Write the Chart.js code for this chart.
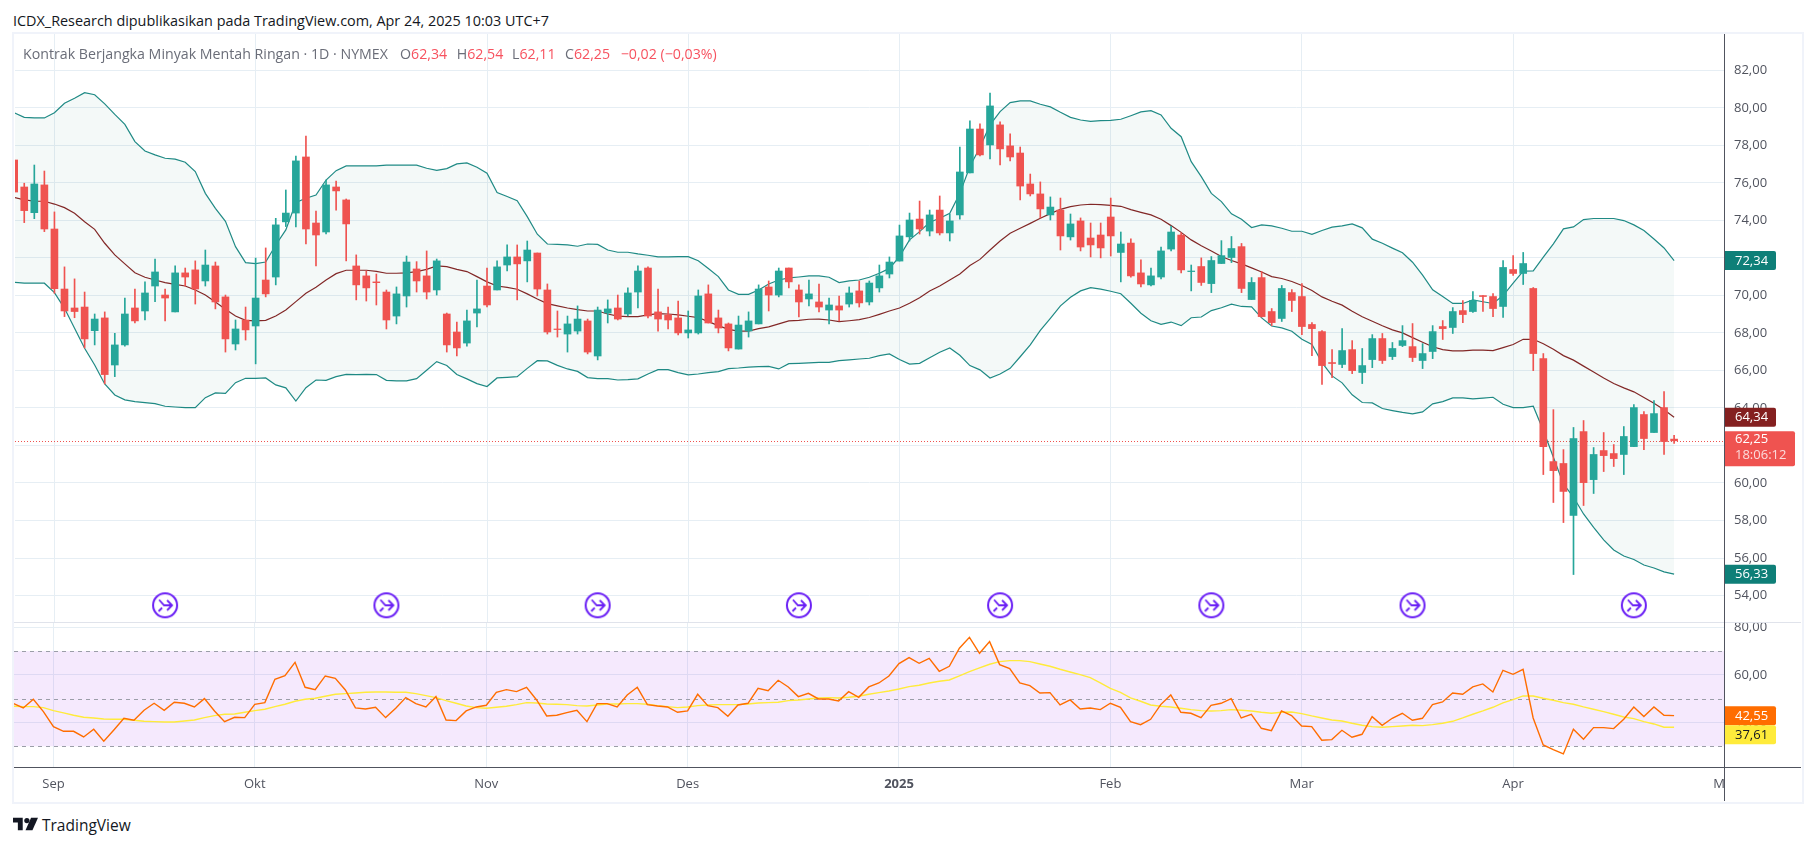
<!DOCTYPE html>
<html>
<head>
<meta charset="utf-8">
<title>Kontrak Berjangka Minyak Mentah Ringan</title>
<script src="https://cdn.jsdelivr.net/npm/chart.js@4/dist/chart.umd.min.js"></script>
<style>
  html, body { margin: 0; padding: 0; background: #fff; width: 1814px; height: 846px; overflow: hidden; }
  body { font-family: "Open Sans", sans-serif; position: relative; }
  canvas { position: absolute; left: 0; }
  #hargaChart { top: 0; }
  #rsiChart { top: 622px; }
  .teks { position: absolute; white-space: nowrap; }
  #judul { left: 13px; top: 11px; font-size: 14.4px; color: #131722; }
  #legenda { left: 0; top: 44px; font-size: 14.2px; color: #6a6d78; }
  #legenda span { position: absolute; top: 0; }
  #legenda b { font-weight: normal; color: #f7525f; }
  .garis { position: absolute; }
  #logo { position: absolute; left: 13px; top: 817px; }
  #namaLogo { left: 42px; top: 814px; font-size: 15.5px; color: #131722; }
</style>
</head>
<body>
<div class="teks" id="judul">ICDX_Research dipublikasikan pada TradingView.com, Apr 24, 2025 10:03 UTC+7</div>
<canvas id="hargaChart"></canvas>
<canvas id="rsiChart"></canvas>
<div class="teks" id="legenda">
  <span style="left:23px">Kontrak Berjangka Minyak Mentah Ringan · 1D · NYMEX</span>
  <span style="left:400px">O<b>62,34</b></span>
  <span style="left:456.7px">H<b>62,54</b></span>
  <span style="left:512px">L<b>62,11</b></span>
  <span style="left:565px">C<b>62,25</b></span>
  <span style="left:620.7px"><b>−0,02 (−0,03%)</b></span>
</div>

<!-- frame and axis lines -->
<div class="garis" style="left:12px;top:32px;width:1788px;height:768px;border:2px solid #f0f3fa"></div>
<div class="garis" style="left:14px;top:622px;width:1787px;height:1px;background:#e0e3eb"></div>
<div class="garis" style="left:14px;top:767px;width:1787px;height:1px;background:#50535e"></div>
<div class="garis" style="left:1724px;top:34px;width:1px;height:767px;background:#50535e"></div>

<svg id="logo" width="25" height="14" viewBox="0 0 36 18">
  <path fill="#131722" d="M0 0h14v18H7V7H0z"/>
  <circle fill="#131722" cx="20" cy="4" r="3.8"/>
  <path fill="#131722" d="M26 0h10l-8 18H18z"/>
</svg>
<div class="teks" id="namaLogo">TradingView</div>

<script>
// candles, index 0 is the half hidden one at the left edge
const openData = [77.22,75.78,74.41,75.89,73.54,70.34,69.33,69.38,68.12,68.80,66.29,67.36,69.33,69.17,70.50,70.02,69.12,71.20,71.36,70.77,71.57,69.92,67.41,68.69,68.37,70.82,70.98,73.92,74.39,77.38,73.86,73.38,75.78,75.09,71.57,71.04,70.72,70.18,68.90,69.97,71.41,71.04,70.29,69.01,68.05,67.46,69.06,70.50,70.29,71.62,72.05,71.84,72.26,70.29,68.21,67.94,68.10,68.64,66.77,69.06,69.33,69.01,70.18,71.46,69.12,68.96,68.80,68.00,68.00,70.08,68.80,68.48,67.14,68.10,68.48,70.45,70.02,71.46,70.29,69.81,69.65,69.22,69.44,69.54,70.24,69.65,70.40,71.14,71.83,73.12,74.07,73.43,74.55,73.33,74.29,76.53,78.87,78.02,79.09,77.97,77.59,75.94,75.41,74.29,74.55,73.12,73.97,73.06,73.22,74.18,72.29,72.79,71.20,70.56,70.98,72.47,73.22,71.27,71.54,70.63,71.70,72.02,72.60,69.78,70.95,69.14,68.77,70.15,69.94,68.45,68.07,66.42,66.32,67.11,65.89,66.58,67.70,66.74,67.33,67.27,66.53,67.01,68.34,68.29,69.19,69.14,69.99,69.94,69.41,71.38,71.17,70.37,66.63,61.14,61.04,58.27,62.74,60.18,61.73,61.57,61.52,61.94,63.65,62.69,64.02,62.34];
const highData = [77.25,75.98,76.95,76.63,74.45,71.52,70.88,70.18,69.01,69.12,67.98,69.86,70.34,70.72,71.94,70.34,71.57,71.46,71.84,72.42,71.78,70.02,68.69,69.38,71.99,72.53,74.11,75.62,77.43,78.50,74.50,76.15,76.10,75.14,72.16,71.30,71.14,70.29,70.45,72.10,71.80,72.37,71.94,69.06,68.58,69.22,70.82,71.46,71.84,72.69,72.69,72.90,72.26,70.61,69.17,68.90,69.44,68.74,69.38,69.76,70.02,70.40,71.57,71.52,70.34,69.38,69.70,69.17,70.29,70.56,69.22,68.53,68.90,69.12,70.56,70.77,71.46,71.46,70.56,70.82,70.61,69.86,69.97,70.45,70.77,70.77,71.62,72.05,73.75,74.39,75.03,74.55,75.30,74.34,77.91,79.30,79.14,80.79,79.25,78.61,77.91,76.47,76.05,75.25,75.19,74.34,74.13,73.86,73.86,75.19,73.38,73.01,71.89,71.46,72.58,73.70,73.33,71.62,72.00,72.07,72.92,73.14,72.77,70.95,71.27,69.30,70.53,70.31,70.63,68.55,68.13,67.11,68.23,67.59,67.17,67.91,67.97,67.49,68.39,68.50,67.43,68.39,68.66,69.35,69.73,70.21,69.99,70.10,71.86,72.12,72.29,70.42,66.90,63.91,61.78,62.96,63.33,61.89,62.69,62.05,63.01,64.18,63.81,64.40,64.87,62.54];
const lowData = [75.50,73.88,74.09,73.40,70.11,68.87,68.81,67.20,67.36,65.28,65.67,67.30,68.53,68.69,69.67,68.64,69.12,70.50,69.54,70.50,69.28,66.98,67.09,67.62,66.35,69.92,70.56,73.67,73.65,72.74,71.57,73.28,74.55,71.84,69.76,69.70,69.49,68.21,68.48,69.38,70.18,69.81,70.02,66.98,66.77,67.30,68.32,69.38,70.29,71.30,69.76,70.72,69.97,67.94,67.78,66.98,67.94,66.88,66.56,68.53,68.69,68.90,69.33,68.80,68.10,68.21,67.89,67.73,67.94,68.53,68.00,67.04,67.14,67.78,68.48,69.17,69.92,70.40,68.85,69.44,69.12,68.48,68.64,69.38,69.38,69.49,70.18,70.93,71.83,72.90,73.27,73.17,73.22,72.90,74.07,76.53,77.43,77.27,76.95,77.17,75.09,75.30,74.13,74.02,72.42,72.95,72.37,72.05,72.00,72.10,70.72,70.97,70.45,70.50,70.88,72.37,71.20,70.24,70.53,70.15,71.70,71.75,70.15,69.78,68.84,68.39,68.61,69.14,67.91,66.79,65.25,65.62,66.15,65.83,65.30,66.15,66.37,66.58,67.27,66.47,66.10,66.63,67.65,67.97,68.55,69.09,69.14,68.87,68.82,71.06,70.58,65.99,60.45,58.96,57.89,55.12,58.80,59.44,60.61,60.88,60.45,61.94,61.78,62.69,61.52,62.11];
const closeData = [75.51,74.52,75.94,73.54,70.36,69.17,69.14,67.68,68.74,65.78,67.36,69.01,68.64,70.13,71.25,69.86,71.20,70.98,70.34,71.62,69.65,67.68,68.21,68.16,69.86,70.08,73.76,74.39,77.17,73.54,73.22,75.89,75.57,73.81,70.56,70.40,70.68,68.69,70.08,71.78,70.77,70.18,71.84,67.36,67.20,68.64,69.28,69.49,71.52,72.05,71.68,72.42,70.34,68.05,68.18,68.48,68.74,66.98,69.22,69.28,68.74,70.13,71.30,68.90,68.74,68.69,68.00,68.16,69.97,68.53,68.26,67.20,68.42,68.64,70.34,70.02,71.30,70.72,69.65,70.08,69.38,69.49,69.22,70.13,69.60,70.66,71.04,71.78,73.17,74.02,73.54,74.29,73.33,73.97,76.58,78.87,77.49,80.10,77.81,77.38,75.83,75.41,74.61,74.71,73.17,73.81,72.58,72.69,72.53,73.17,72.74,71.04,70.61,71.04,72.37,73.38,71.36,71.30,70.69,71.86,72.12,72.50,70.37,70.69,68.87,68.55,70.37,69.73,68.34,68.23,66.26,66.37,67.06,65.99,66.26,67.70,66.53,67.17,67.59,66.69,66.90,68.07,68.23,69.14,68.98,69.73,69.94,69.30,71.49,71.17,71.70,66.90,61.94,60.66,59.55,62.37,60.02,61.52,61.46,61.30,62.48,64.02,62.37,63.70,62.21,62.25];

// Bollinger bands
const bbUpper = [79.74,79.49,79.46,79.46,79.74,80.24,80.51,80.81,80.70,80.21,79.65,79.12,78.20,77.70,77.49,77.31,77.26,77.10,76.60,75.44,74.64,73.95,72.60,71.75,71.69,71.78,72.69,73.49,74.95,75.18,75.35,76.15,76.65,76.90,76.90,76.90,76.90,76.94,76.94,76.94,76.94,76.78,76.67,76.76,77.01,77.06,76.83,76.51,75.48,75.27,75.05,74.20,73.26,72.74,72.72,72.69,72.62,72.74,72.72,72.42,72.30,72.30,72.21,72.14,72.05,72.05,72.07,72.07,71.85,71.43,71.00,70.29,70.06,70.06,70.29,70.61,70.82,70.93,70.98,71.04,71.04,70.97,70.68,70.77,70.82,70.97,71.18,71.44,72.07,72.96,73.40,73.90,74.11,74.38,75.44,76.87,77.90,79.09,79.80,80.28,80.37,80.37,80.19,80.05,79.76,79.49,79.35,79.28,79.32,79.33,79.39,79.58,79.78,79.85,79.62,78.91,78.46,77.13,76.33,75.44,75.00,74.35,74.06,73.62,73.76,73.71,73.58,73.42,73.42,73.26,73.46,73.64,73.71,73.81,73.60,73.00,72.78,72.52,72.27,71.77,71.08,70.30,69.94,69.57,69.57,69.76,69.66,69.57,69.99,70.65,71.29,71.31,72.04,72.75,73.55,73.65,74.04,74.10,74.10,74.10,73.99,73.76,73.46,73.01,72.53,71.86];
const bbBasis = [75.23,75.09,75.03,75.02,74.87,74.68,74.38,73.93,73.52,72.78,72.16,71.68,71.21,70.97,70.82,70.68,70.59,70.50,70.29,70.02,69.65,69.26,68.90,68.67,68.64,68.67,68.90,69.22,69.67,70.11,70.43,70.82,71.16,71.34,71.34,71.34,71.28,71.18,71.18,71.20,71.27,71.39,71.57,71.53,71.39,71.27,71.00,70.72,70.50,70.43,70.33,70.08,69.81,69.56,69.44,69.33,69.24,69.17,69.17,69.01,68.90,68.87,68.87,68.96,69.03,69.01,68.96,68.89,68.82,68.60,68.39,68.19,68.10,68.10,68.23,68.32,68.48,68.64,68.67,68.73,68.74,68.69,68.60,68.65,68.71,68.82,68.99,69.17,69.33,69.58,69.88,70.24,70.50,70.82,71.14,71.59,71.92,72.42,72.90,73.31,73.58,73.84,74.11,74.36,74.59,74.73,74.82,74.86,74.84,74.80,74.75,74.57,74.43,74.29,74.06,73.72,73.36,72.96,72.65,72.37,72.07,71.86,71.68,71.47,71.25,71.00,70.90,70.74,70.53,70.26,69.92,69.69,69.48,69.16,68.86,68.62,68.38,68.16,68.00,67.75,67.50,67.26,67.11,67.04,67.04,67.08,67.08,67.06,67.22,67.38,67.66,67.66,67.42,67.13,66.79,66.55,66.23,65.92,65.60,65.30,65.07,64.86,64.56,64.25,63.90,63.51];
const bbLower = [70.70,70.65,70.65,70.65,70.15,69.31,68.25,67.18,66.29,65.28,64.69,64.43,64.34,64.28,64.23,64.09,64.05,64.02,64.02,64.55,64.80,64.78,65.35,65.58,65.58,65.60,65.23,65.07,64.37,65.08,65.49,65.47,65.67,65.79,65.78,65.79,65.78,65.47,65.44,65.44,65.56,66.01,66.47,66.26,65.78,65.55,65.30,65.14,65.60,65.63,65.67,66.11,66.52,66.51,66.27,66.08,65.95,65.62,65.56,65.56,65.49,65.51,65.55,65.81,66.04,66.04,65.88,65.76,65.81,65.88,65.94,66.10,66.13,66.18,66.20,66.22,66.08,66.36,66.38,66.40,66.43,66.43,66.52,66.56,66.61,66.65,66.79,66.88,66.58,66.34,66.38,66.68,66.97,67.20,66.81,66.26,66.03,65.60,65.81,66.11,66.73,67.36,68.14,68.78,69.44,69.90,70.24,70.41,70.33,70.22,70.09,69.58,69.05,68.65,68.46,68.58,68.39,68.81,68.85,69.19,69.34,69.53,69.41,69.39,68.80,68.37,68.27,68.09,67.66,67.38,66.42,65.71,65.34,64.70,64.29,64.27,63.97,63.86,63.76,63.69,63.79,64.22,64.34,64.54,64.54,64.48,64.52,64.57,64.20,64.02,64.02,64.09,62.80,61.37,59.95,59.24,58.35,57.64,56.97,56.43,56.11,55.92,55.63,55.47,55.26,55.14];

// RSI pane
const rsiData = [48.07,46.11,49.75,44.57,38.26,36.30,36.30,33.92,37.14,32.10,36.86,41.76,40.92,45.13,48.07,45.13,48.49,48.07,46.53,50.03,44.85,40.36,42.18,42.04,47.65,48.35,58.15,59.69,65.29,54.79,53.81,59.55,58.57,53.67,46.11,45.69,46.39,42.04,45.97,50.45,47.93,46.53,50.87,41.06,40.78,44.85,46.53,47.23,52.69,53.81,52.97,54.79,49.47,42.75,43.03,44.15,45.13,40.36,47.93,47.93,46.53,51.57,54.79,47.51,46.95,46.53,44.29,44.85,51.85,47.09,46.25,42.61,47.37,48.07,54.37,53.39,57.73,54.93,50.87,52.27,49.89,49.89,49.05,52.97,50.59,54.93,56.61,59.55,64.73,67.25,64.87,66.97,61.51,63.61,71.18,75.80,69.08,73.98,64.31,62.63,56.61,55.49,52.41,52.55,47.37,49.47,45.69,46.11,45.41,48.07,46.39,40.36,39.10,41.34,47.51,51.57,44.29,43.87,42.04,47.23,48.07,50.03,41.90,43.45,37.56,36.58,44.85,42.88,38.54,38.26,32.52,32.80,36.72,33.78,35.04,42.46,38.82,41.76,43.87,40.92,41.76,47.51,48.63,52.41,51.85,54.93,56.19,52.83,61.93,60.25,62.35,41.90,30.56,28.60,26.78,37.14,32.94,37.84,37.84,37.42,41.34,46.53,42.46,46.53,43.03,42.88];
const rsiMa = [46.81,46.67,46.67,46.25,44.99,44.01,43.03,42.18,41.90,41.48,41.34,41.34,40.92,40.50,40.36,40.22,40.22,40.64,41.06,42.04,42.88,43.45,43.59,44.29,44.99,45.55,46.67,47.65,48.91,49.75,50.17,51.01,51.85,52.13,52.41,52.69,52.83,52.83,52.69,52.69,52.13,51.29,50.45,49.19,48.07,46.95,46.25,45.97,46.39,46.81,47.51,48.35,48.21,47.79,47.65,47.51,47.09,46.95,47.37,47.79,47.79,47.93,47.93,47.65,47.09,46.67,46.25,46.53,47.09,47.37,47.51,47.51,47.51,47.79,48.21,48.35,48.49,49.19,49.47,49.89,50.31,50.45,50.31,50.59,51.01,51.85,52.55,53.25,54.09,55.07,55.63,56.61,57.31,57.87,59.55,61.37,62.91,64.45,65.57,65.99,65.99,65.57,64.59,63.61,62.35,61.23,60.11,58.85,56.61,54.37,52.69,50.31,48.91,47.37,46.81,46.53,45.97,45.41,44.99,44.85,44.99,45.41,45.13,44.85,44.29,43.87,44.29,44.43,43.73,42.75,41.90,41.06,40.64,39.66,38.82,38.26,37.98,38.26,38.54,38.82,38.68,39.10,39.66,40.50,41.90,43.45,44.85,46.39,48.21,49.61,51.15,51.15,50.17,49.33,48.35,47.65,46.53,45.55,44.57,43.45,42.32,41.62,40.36,39.38,37.98,37.98];
const rsiLevels = [70, 50, 30];

// time axis
const monthIndex = [4, 24, 47, 67, 88, 109, 128, 149, 170];
const monthLabels = ['Sep', 'Okt', 'Nov', 'Des', '2025', 'Feb', 'Mar', 'Apr', 'Mei'];

// event markers under the candles
const eventIndex = [15, 37, 58, 78, 98, 119, 139, 161];
const eventPrice = 53.48;

const lastPrice = 62.25;
const countdown = '18:06:12';

const hijau = '#26a69a';
const merah = '#ef5350';
const warnaGrid = '#e6eef4';

const xMin = 0.08;
const xMax = 169.96;

function angka(v) {
  return v.toFixed(2).replace('.', ',');
}

// small picture used as the point style of the events
function ikonEvent() {
  const c = document.createElement('canvas');
  c.width = 28;
  c.height = 28;
  const g = c.getContext('2d');
  g.fillStyle = '#fff';
  g.strokeStyle = '#6a1ff5';
  g.lineWidth = 2;
  g.beginPath();
  g.arc(14, 14, 12, 0, Math.PI * 2);
  g.fill();
  g.stroke();
  g.lineWidth = 1.8;
  g.beginPath();
  g.moveTo(8, 8.5); g.lineTo(13, 14); g.lineTo(21, 14);
  g.moveTo(16, 9); g.lineTo(21, 14); g.lineTo(16, 19);
  g.moveTo(7.5, 20); g.lineTo(11, 16.5);
  g.stroke();
  return c;
}

function tagKanan(ctx, kiri, tengah, lebar, tinggi, warna) {
  ctx.fillStyle = warna;
  ctx.beginPath();
  ctx.roundRect(kiri, tengah - tinggi / 2, lebar, tinggi, [0, 2, 2, 0]);
  ctx.fill();
}

const fontAxis = '13px "Open Sans", sans-serif';

// price tags, dotted last price line
const hargaPlugin = {
  id: 'hargaPlugin',
  beforeDatasetsDraw(chart) {
    const y = chart.scales.y;
    const area = chart.chartArea;
    const ctx = chart.ctx;
    ctx.save();
    ctx.strokeStyle = merah;
    ctx.setLineDash([1, 2]);
    ctx.beginPath();
    ctx.moveTo(area.left, Math.round(y.getPixelForValue(lastPrice)) + 0.5);
    ctx.lineTo(area.right, Math.round(y.getPixelForValue(lastPrice)) + 0.5);
    ctx.stroke();
    ctx.restore();
  },
  afterDraw(chart) {
    const y = chart.scales.y;
    const ctx = chart.ctx;
    const kiri = chart.chartArea.right + 1;
    const tags = [
      { v: bbUpper[bbUpper.length - 1], t: '72,34', c: '#0e7f78' },
      { v: bbBasis[bbBasis.length - 1], t: '64,34', c: '#842020' },
      { v: bbLower[bbLower.length - 1], t: '56,33', c: '#0e7f78' }
    ];
    ctx.save();
    ctx.font = fontAxis;
    ctx.textBaseline = 'middle';
    tags.forEach(tag => {
      const p = y.getPixelForValue(tag.v);
      tagKanan(ctx, kiri, p, 51, 19, tag.c);
      ctx.fillStyle = '#fff';
      ctx.fillText(tag.t, kiri + 10, p + 0.5);
    });
    const p = y.getPixelForValue(lastPrice);
    tagKanan(ctx, kiri, p + 8, 70, 35, merah);
    ctx.fillStyle = '#fff';
    ctx.fillText(angka(lastPrice), kiri + 10, p - 1);
    ctx.fillStyle = '#fbdcdc';
    ctx.fillText(countdown, kiri + 10, p + 15);
    ctx.restore();
  }
};

// rsi band, dashed levels and the two tags
const rsiPlugin = {
  id: 'rsiPlugin',
  beforeDatasetsDraw(chart) {
    const y = chart.scales.y;
    const area = chart.chartArea;
    const ctx = chart.ctx;
    ctx.save();
    ctx.fillStyle = 'rgba(156,39,240,0.1)';
    ctx.fillRect(area.left, y.getPixelForValue(rsiLevels[0]), area.width, y.getPixelForValue(rsiLevels[2]) - y.getPixelForValue(rsiLevels[0]));
    ctx.strokeStyle = '#9b9ea8';
    ctx.setLineDash([4, 4]);
    rsiLevels.forEach(l => {
      const p = Math.round(y.getPixelForValue(l)) + 0.5;
      ctx.beginPath();
      ctx.moveTo(area.left, p);
      ctx.lineTo(area.right, p);
      ctx.stroke();
    });
    ctx.restore();
  },
  afterDraw(chart) {
    const y = chart.scales.y;
    const area = chart.chartArea;
    const ctx = chart.ctx;
    // the Mei label is cut by the price axis
    ctx.clearRect(area.right, area.bottom, 80, 40);
    const kiri = area.right + 1;
    const p1 = y.getPixelForValue(rsiData[rsiData.length - 1]);
    const p2 = Math.max(y.getPixelForValue(rsiMa[rsiMa.length - 1]), p1 + 19);
    ctx.save();
    ctx.font = fontAxis;
    ctx.textBaseline = 'middle';
    tagKanan(ctx, kiri, p1, 51, 19, '#ff6d00');
    ctx.fillStyle = '#fff';
    ctx.fillText('42,55', kiri + 10, p1 + 0.5);
    tagKanan(ctx, kiri, p2, 51, 19, '#ffeb3b');
    ctx.fillStyle = '#131722';
    ctx.fillText('37,61', kiri + 10, p2 + 0.5);
    ctx.restore();
  }
};

// keep both panes on the same pixel rows: no room for overflowing labels
function tanpaPadding(s) {
  s.paddingTop = 0;
  s.paddingBottom = 0;
  s.paddingLeft = 0;
  s.paddingRight = 0;
}

const xSama = {
  type: 'linear',
  min: xMin,
  max: xMax,
  offset: false,
  afterBuildTicks: (scale) => { scale.ticks = monthIndex.map(v => ({ value: v })); },
  grid: { color: warnaGrid, drawTicks: false, offset: false },
  border: { display: false }
};

const yTicks = {
  color: '#50535e',
  padding: 10,
  font: { family: '"Open Sans", sans-serif', size: 13 },
  includeBounds: false,
  callback: (v) => angka(v)
};

function buatHarga() {
  const idx = openData.map((_, i) => i);
  const warna = openData.map((o, i) => closeData[i] >= o ? hijau : merah);
  const garis = (data, warnaGaris, tambahan) => Object.assign({
    type: 'line',
    data: data.map((v, i) => ({ x: i, y: v })),
    borderColor: warnaGaris,
    borderWidth: 1.2,
    pointRadius: 0,
    tension: 0,
    order: 3
  }, tambahan);

  const canvas = document.getElementById('hargaChart');
  canvas.style.width = '1814px';
  canvas.style.height = '637px';  // the x scale keeps 15px below the plot
  new Chart(canvas, {
    data: {
      datasets: [
        garis(bbUpper, '#1f8a85', { fill: { target: 2, above: 'rgba(34,137,120,0.05)', below: 'rgba(34,137,120,0.05)' } }),
        garis(bbBasis, '#872323', {}),
        garis(bbLower, '#1f8a85', {}),
        {
          type: 'bar',
          grouped: false,
          barThickness: 1,
          data: idx.map(i => ({ x: i, y: [lowData[i], highData[i]] })),
          backgroundColor: warna,
          order: 2
        },
        {
          type: 'bar',
          grouped: false,
          barThickness: 7,
          data: idx.map(i => ({ x: i, y: [openData[i], closeData[i]] })),
          backgroundColor: warna,
          order: 1
        },
        {
          type: 'line',
          showLine: false,
          data: eventIndex.map(i => ({ x: i, y: eventPrice })),
          pointStyle: ikonEvent(),
          pointRadius: 14,
          order: 0
        }
      ]
    },
    options: {
      responsive: false,
      animation: false,
      devicePixelRatio: 1,
      layout: { padding: { left: 14, right: 13, top: 34, bottom: 0 } },
      plugins: { legend: { display: false }, tooltip: { enabled: false } },
      scales: {
        x: Object.assign({}, xSama, {
          ticks: { display: false },
          afterFit: (s) => { s.height = 0; tanpaPadding(s); }
        }),
        y: {
          position: 'right',
          min: 52.59,
          max: 83.935,
          afterFit: (s) => { s.width = 77; tanpaPadding(s); },
          grid: { color: warnaGrid, drawTicks: false },
          border: { display: false },
          ticks: Object.assign({ stepSize: 2 }, yTicks)
        }
      }
    },
    plugins: [hargaPlugin]
  });
}

function buatRsi() {
  const canvas = document.getElementById('rsiChart');
  canvas.style.width = '1814px';
  canvas.style.height = '180px';
  new Chart(canvas, {
    data: {
      datasets: [
        {
          type: 'line',
          data: rsiMa.map((v, i) => ({ x: i, y: v })),
          borderColor: '#ffeb3b',
          borderWidth: 1.4,
          pointRadius: 0,
          order: 2
        },
        {
          type: 'line',
          data: rsiData.map((v, i) => ({ x: i, y: v })),
          borderColor: '#ff6d00',
          borderWidth: 1.4,
          pointRadius: 0,
          order: 1
        }
      ]
    },
    options: {
      responsive: false,
      animation: false,
      devicePixelRatio: 1,
      layout: { padding: { left: 14, right: 13, top: 1, bottom: 0 } },
      plugins: { legend: { display: false }, tooltip: { enabled: false } },
      scales: {
        x: Object.assign({}, xSama, {
          afterFit: (s) => { s.height = 34.3; tanpaPadding(s); },
          ticks: {
            color: '#50535e',
            padding: 9,
            autoSkip: false,
            maxRotation: 0,
            font: (c) => ({ family: '"Open Sans", sans-serif', size: 13, weight: c.tick && c.tick.label === '2025' ? 'bold' : 'normal' }),
            callback: (v) => monthLabels[monthIndex.indexOf(v)]
          }
        }),
        y: {
          position: 'right',
          min: 21,
          max: 81.8,
          afterFit: (s) => { s.width = 77; tanpaPadding(s); },
          grid: { color: warnaGrid, drawTicks: false },
          border: { display: false },
          ticks: Object.assign({ stepSize: 20 }, yTicks)
        }
      }
    },
    plugins: [rsiPlugin]
  });
}

window.addEventListener('load', () => {
  buatHarga();
  buatRsi();
});
</script>
</body>
</html>
